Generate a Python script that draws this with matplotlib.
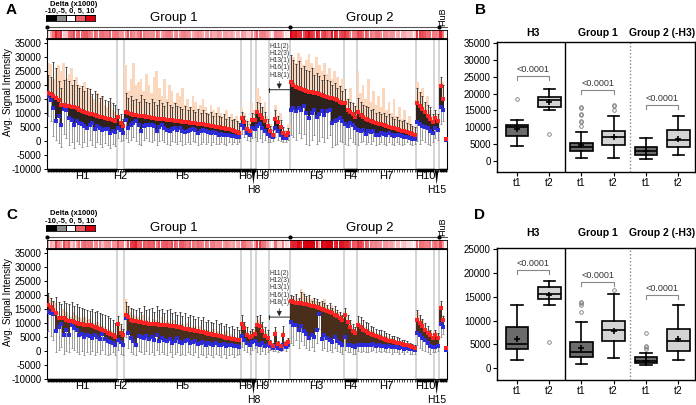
import numpy as np
import matplotlib.pyplot as plt
import matplotlib.transforms as mtransforms
from matplotlib.colors import LinearSegmentedColormap, Normalize

plt.rcParams['font.family'] = ['Liberation Sans', 'DejaVu Sans']
plt.rcParams['axes.unicode_minus'] = False

W, H = 696, 405

# probe blocks along the x axis of A and C
segments = ['H1', 'H2', 'H5', 'H6', 'H8', 'H9', 'other', 'H3', 'H4', 'H7', 'H10', 'H15', 'FluB']
seg_sizes = [27, 3, 45, 4, 2, 5, 8, 21, 5, 23, 7, 2, 3]
low_labels = ['H8', 'H15']
bold_segments = ['H1', 'H5', 'H6', 'H8', 'H4', 'H10', 'FluB']
other_note = 'H11(2)\nH12(3)\nH13(1)\nH16(1)\nH18(1)'
groups = ['Group 1', 'Group 2']
group_sizes = [94, 58]
delta_keys = [-10, -5, 0, 5, 10]

# ---- panel A, values x1000 ----
a_t2 = [17.0, 16.6, 16.0, 15.2, 14.6, 13.0, 12.8, 12.6, 12.4, 12.2, 12.0, 11.6, 11.2, 10.8,
        10.4, 10.1, 9.8, 9.5, 9.2, 8.9, 8.7, 8.4, 8.2, 8.0, 7.8, 7.5, 7.3,
        8.6, 6.3, 5.5,
        10.3, 9.9, 9.6, 9.4, 9.2, 9.0, 8.9, 8.8, 8.6, 8.5, 8.3, 8.2, 8.0, 7.9, 7.8, 7.7, 7.6,
        7.5, 7.4, 7.3, 7.2, 7.0, 6.9, 6.8, 6.7, 6.5, 6.4, 6.3, 6.1, 6.0, 5.9, 5.7, 5.6, 5.4,
        5.2, 5.0, 4.9, 4.7, 4.5, 4.3, 4.1, 3.9, 3.6, 3.3, 3.0,
        8.3, 6.8, 4.2, 3.5,
        7.6, 7.4,
        10.2, 9.4, 8.2, 7.0, 5.2,
        3.5, 2.2, 8.0, 6.6, 5.0, 3.0, 2.0, 2.8,
        21.0, 20.0, 19.4, 19.0, 18.6, 18.3, 17.9, 17.6, 17.4, 17.2, 17.0, 16.7, 16.4, 16.1,
        15.8, 15.5, 15.2, 14.9, 14.5, 14.0, 13.6,
        13.6, 11.2, 10.4, 9.6, 8.7,
        10.4, 9.4, 8.6, 8.0, 7.6, 7.2, 6.8, 6.5, 6.2, 5.9, 5.6, 5.3, 5.0, 4.8, 4.5, 4.2, 4.0,
        3.7, 3.4, 3.1, 2.8, 2.4, 2.0,
        13.6, 12.6, 11.4, 10.4, 9.0, 8.0, 6.8,
        8.2, 7.0,
        19.8, 15.0, 0.8]
a_t1 = [15.9, 14.7, 11.8, 7.3, 8.8, 5.6, 11.5, 11.2, 8.2, 7.6, 5.8, 7.0, 6.4, 6.0, 5.2, 4.6,
        5.8, 6.4, 4.4, 5.2, 4.6, 4.0, 4.4, 4.4, 2.9, 3.7, 3.2,
        4.6, 3.8, 3.0,
        7.6, 4.6, 5.6, 6.4, 7.0, 5.6, 3.5, 5.2, 5.6, 5.6, 5.6, 5.2, 3.5, 4.9, 5.6, 4.6, 4.0,
        3.7, 4.4, 4.6, 4.0, 4.6, 3.5, 3.2, 3.7, 4.0, 4.4, 3.9, 2.9, 3.5, 3.9, 3.5, 3.2, 2.7,
        3.2, 2.9, 2.3, 2.5, 2.3, 2.0, 2.3, 1.7, 1.9, 1.5, 1.3,
        5.8, 4.6, 2.8, 2.2,
        4.8, 4.4,
        5.2, 6.0, 4.6, 3.4, 2.6,
        1.9, 1.6, 4.5, 3.5, 2.0, 1.0, 1.2, 2.2,
        11.2, 11.6, 10.6, 11.6, 11.2, 12.4, 10.0, 8.2, 10.0, 11.2, 8.5, 9.6, 10.8, 9.4, 10.6,
        11.2, 6.4, 7.0, 7.6, 8.2, 7.0,
        6.0, 5.2, 6.5, 5.8, 4.6,
        4.0, 3.7, 4.0, 2.5, 3.5, 3.2, 3.7, 2.3, 2.0, 2.9, 2.5, 2.3, 2.7, 2.0, 1.7, 2.3, 2.0,
        1.7, 1.3, 1.5, 1.1, 0.8, 0.6,
        6.6, 6.0, 5.4, 5.0, 4.6, 3.4, 3.0,
        4.6, 4.0,
        12.0, 11.0, 0.3]
a_peach = [28.0, 27.5, 22.0, 26.0, 27.0, 25.0, 28.0, 22.0, 24.0, 26.0, 20.0, 23.0, 20.0, 19.0,
           21.0, 18.0, 19.0, 16.0, 15.0, 17.0, 14.0, 16.0, 13.0, 12.0, 14.0, 11.0, 10.5,
           10.0, 9.0, 8.0,
           27.0, 18.0, 22.0, 28.0, 20.0, 21.0, 22.0, 18.0, 24.0, 20.0, 17.0, 23.0, 25.0, 19.0,
           16.0, 22.0, 15.0, 20.0, 18.0, 14.0, 17.0, 16.0, 19.0, 13.0, 15.0, 12.0, 16.0, 14.0,
           11.0, 13.0, 15.0, 12.0, 10.0, 13.0, 11.0, 9.5, 12.0, 10.0, 9.0, 11.0, 8.5, 9.5,
           8.0, 9.0, 7.0,
           12.0, 10.0, 8.0, 7.0,
           14.0, 11.0,
           19.0, 16.0, 12.0, 14.0, 9.0,
           6.0, 5.0, 13.0, 9.0, 10.0, 5.0, 4.0, 6.0,
           29.0, 30.0, 28.0, 31.5, 30.0, 27.0, 29.0, 31.0, 28.0, 26.0, 30.0, 27.0, 25.0, 28.0,
           24.0, 26.0, 22.0, 25.0, 23.0, 20.0, 22.0,
           18.0, 15.0, 19.0, 14.0, 12.0,
           25.0, 17.0, 20.0, 15.0, 22.0, 14.0, 18.0, 13.0, 16.0, 12.0, 19.0, 11.0, 14.0, 10.0,
           15.0, 9.0, 12.0, 8.0, 11.0, 7.0, 9.0, 6.0, 5.0,
           21.0, 17.0, 19.0, 14.0, 16.0, 11.0, 9.0,
           10.0, 9.0,
           22.0, 21.0, 0.8]
a_hi = [23.7, 22.8, 28.1, 26.1, 21.3, 19.0, 21.9, 26.3, 21.3, 20.1, 21.9, 20.1, 19.0, 19.6,
        17.8, 19.0, 18.4, 16.6, 17.8, 16.6, 15.4, 16.0, 14.8, 14.2, 15.4, 13.6, 13.0,
        11.5, 9.5, 8.0,
        17.0, 15.5, 16.0, 14.5, 15.0, 14.0, 16.5, 15.0, 14.0, 13.5, 15.0, 14.0, 13.0, 14.5,
        13.5, 12.5, 14.0, 13.0, 12.0, 13.5, 12.5, 12.0, 11.5, 12.5, 11.0, 12.0, 11.0, 10.5,
        11.5, 10.0, 11.0, 10.0, 9.5, 10.5, 9.0, 10.0, 9.0, 8.5, 9.5, 8.0, 8.5, 7.5, 8.0, 7.0, 6.5,
        10.5, 9.0, 7.0, 6.0,
        10.0, 9.5,
        14.0, 13.5, 12.0, 10.5, 8.0,
        5.5, 4.0, 11.0, 9.0, 7.5, 5.0, 3.5, 4.5,
        30.8, 29.0, 27.3, 28.5, 26.1, 26.7, 25.5, 24.9, 26.1, 23.7, 24.3, 23.1, 21.9, 23.7,
        21.9, 21.3, 20.1, 20.7, 18.9, 19.5, 17.8,
        18.5, 15.0, 14.0, 13.5, 12.5,
        15.5, 14.0, 13.0, 12.5, 12.0, 11.0, 11.5, 10.0, 10.5, 9.5, 10.0, 9.0, 9.5, 8.5, 8.0,
        8.5, 7.5, 7.0, 7.5, 6.5, 6.0, 5.5, 5.0,
        19.0, 17.5, 16.0, 14.0, 13.0, 12.0, 9.5,
        11.0, 9.5,
        23.0, 20.0, 0.8]
a_lo = [8.8, 7.0, 1.7, 0.5, -0.7, -2.0, 2.5, 1.0, -1.5, -0.5, -2.5, 0.0, -1.0, -2.0, -0.5,
        -1.8, 0.2, -1.5, -2.0, -0.5, -1.0, -2.2, -0.8, -1.5, -2.5, -1.0, -1.8,
        1.0, 0.0, 0.5,
        1.0, -0.5, 0.5, 1.5, 0.0, -1.0, -1.5, 0.5, 1.0, 0.0, -0.5, 0.5, -1.5, 0.0, 0.5, -0.5,
        -1.0, -1.5, 0.0, -0.5, -1.0, 0.0, -1.5, -1.0, -0.5, -1.0, 0.0, -0.5, -1.5, -1.0, -0.5,
        -1.0, -0.5, -1.5, -0.5, -1.0, -1.0, -0.5, -1.0, -1.5, -0.5, -1.0, -0.5, -1.0, -0.5,
        2.5, 1.5, 0.5, 0.0,
        1.0, 1.5,
        0.0, 1.0, -0.5, 0.5, -0.5,
        -0.5, 0.0, 1.5, 0.5, 0.0, -0.5, -0.5, 0.5,
        2.0, 1.5, 0.5, 3.0, 1.0, 2.5, -1.0, -1.5, 0.5, 2.0, -1.0, 0.0, 1.5, -0.5, 1.0, 2.0,
        -2.0, -1.5, -1.0, 0.0, -0.5,
        -1.0, -1.5, 1.0, -0.5, -1.0,
        -1.5, -0.5, 0.0, -1.0, -0.5, -1.0, 0.0, -1.5, -1.0, -0.5, -1.0, -1.5, -0.5, -1.0, -1.5,
        -0.5, -1.0, -1.5, -1.0, -0.5, -1.0, -1.5, -1.0,
        0.0, -1.0, 0.5, -0.5, -1.0, -1.5, -0.5,
        1.0, 0.5,
        6.0, 7.0, 0.3]

# ---- panel C, values x1000 ----
c_t2 = [16.3, 15.6, 14.7, 13.6, 11.8, 11.6, 11.6, 11.2, 10.8, 10.6, 10.4, 10.0, 9.8, 9.6,
        9.4, 9.4, 9.2, 8.8, 8.5, 8.2, 8.0, 7.6, 7.0, 6.4, 6.0, 5.6, 5.0,
        9.8, 6.4, 5.6,
        13.0, 12.0, 11.2, 10.8, 10.6, 10.4, 10.2, 10.0, 9.9, 9.8, 9.7, 9.6, 9.5, 9.4, 9.3, 9.2,
        9.1, 9.0, 8.9, 8.8, 8.6, 8.4, 8.2, 8.0, 7.8, 7.6, 7.4, 7.2, 7.0, 6.8, 6.6, 6.4, 6.2,
        6.0, 5.8, 5.6, 5.4, 5.2, 5.0, 4.8, 4.6, 4.4, 4.2, 4.0, 3.8,
        9.7, 8.2, 5.8, 5.0,
        5.4, 6.2,
        9.2, 8.8, 7.0, 5.5, 4.5,
        2.9, 1.8, 6.0, 2.5, 1.9, 5.6, 2.5, 3.2,
        18.0, 17.6, 17.3, 17.1, 17.0, 16.8, 16.6, 16.4, 16.2, 16.0, 15.8, 15.5, 15.1, 14.8,
        14.4, 13.9, 13.4, 13.0, 12.4, 11.8, 11.2,
        13.0, 10.4, 8.6, 7.2, 6.4,
        9.2, 8.5, 7.6, 7.0, 6.4, 6.0, 5.6, 5.2, 4.9, 4.6, 4.4, 4.0, 3.7, 3.5, 3.2, 3.0, 2.7,
        2.5, 2.3, 2.0, 1.7, 1.3, 1.1,
        11.0, 10.0, 8.8, 7.6, 6.4, 5.6, 4.6,
        5.6, 4.6,
        15.5, 11.0, 1.1]
c_t1 = [14.0, 13.6, 13.2, 7.0, 8.5, 9.6, 5.6, 7.6, 5.6, 9.4, 8.2, 7.6, 5.6, 6.0, 4.9, 5.6,
        5.2, 4.6, 5.6, 4.9, 4.4, 6.0, 4.4, 3.5, 3.2, 2.9, 2.3,
        4.0, 3.2, 2.3,
        11.8, 6.4, 4.6, 3.5, 2.3, 5.2, 4.9, 4.6, 5.2, 4.4, 4.9, 4.0, 5.6, 3.7, 4.6, 4.0, 3.5,
        4.4, 2.9, 3.7, 4.6, 3.2, 2.9, 3.5, 4.0, 2.9, 3.2, 3.7, 2.5, 2.9, 3.2, 2.3, 2.9, 2.5,
        2.0, 2.7, 2.3, 2.0, 2.5, 1.7, 2.0, 2.3, 1.7, 1.9, 1.5,
        5.4, 4.0, 2.8, 2.2,
        3.2, 3.6,
        2.6, 2.0, 2.9, 1.8, 2.3,
        1.7, 1.1, 1.7, 1.1, 0.8, 2.0, 1.3, 2.3,
        10.4, 9.4, 9.2, 7.6, 8.8, 7.0, 6.0, 4.6, 5.6, 4.9, 7.6, 13.2, 4.4, 5.6, 4.6, 4.0, 3.2,
        4.9, 3.7, 2.9, 2.3,
        4.9, 2.3, 2.0, 1.7, 1.3,
        2.0, 2.0, 2.3, 2.0, 2.0, 2.3, 2.5, 1.7, 2.0, 1.7, 1.9, 1.5, 1.7, 1.3, 1.5, 1.3, 1.1,
        1.3, 0.8, 1.1, 0.8, 0.6, 0.5,
        6.4, 5.6, 4.6, 4.0, 2.9, 1.7, 1.3,
        1.3, 1.7,
        9.6, 8.5, 0.5]
c_peach = [20.0, 19.0, 18.0, 17.0, 14.0, 13.0, 15.0, 14.0, 13.0, 12.0, 14.0, 13.0, 12.0, 11.5,
           12.0, 11.0, 11.5, 10.5, 10.0, 10.5, 9.5, 9.0, 8.5, 8.0, 7.5, 7.0, 6.5,
           11.0, 9.0, 7.0,
           18.5, 16.0, 14.0, 13.0, 12.5, 12.0, 11.5, 13.0, 11.0, 12.0, 10.5, 11.5, 11.0, 10.5,
           12.0, 10.0, 11.0, 10.5, 10.0, 11.0, 9.5, 10.0, 9.5, 9.0, 10.0, 8.5, 9.0, 8.5, 8.0,
           9.0, 7.5, 8.0, 7.5, 7.0, 8.0, 6.5, 7.0, 6.5, 6.0, 7.0, 5.5, 6.0, 5.5, 5.0, 5.0,
           11.0, 9.5, 7.0, 6.0,
           7.0, 8.0,
           11.0, 12.0, 9.0, 7.0, 6.5,
           4.0, 3.0, 7.5, 3.5, 3.0, 7.0, 3.5, 4.5,
           19.5, 19.0, 20.5, 18.5, 22.0, 21.0, 19.0, 20.0, 18.5, 19.0, 18.0, 17.5, 17.0, 18.5,
           16.0, 15.5, 16.5, 15.0, 14.0, 13.5, 12.5,
           15.0, 12.0, 10.0, 8.5, 7.5,
           11.0, 10.0, 9.0, 8.5, 8.0, 7.5, 7.0, 6.5, 6.5, 6.0, 5.5, 5.5, 5.0, 4.5, 4.5, 4.0,
           3.5, 3.5, 3.0, 3.0, 2.5, 2.0, 2.0,
           14.0, 12.5, 11.0, 9.5, 8.0, 7.0, 5.5,
           7.0, 6.0,
           17.0, 13.0, 1.1]
c_hi = [20.7, 18.9, 17.8, 19.2, 17.5, 16.6, 17.8, 17.1, 16.8, 17.5, 15.9, 16.6, 15.6, 15.4,
        15.1, 14.7, 14.4, 15.1, 13.9, 14.2, 13.6, 13.2, 13.0, 12.4, 11.8, 11.2, 10.0,
        12.5, 9.5, 8.0,
        17.5, 16.0, 15.5, 15.0, 14.5, 15.5, 14.0, 16.0, 14.5, 15.0, 15.5, 14.0, 16.0, 14.5,
        15.0, 13.5, 14.5, 15.0, 13.5, 14.0, 13.0, 14.0, 12.5, 13.5, 12.0, 13.0, 12.5, 11.5,
        12.0, 11.0, 12.0, 10.5, 11.0, 10.5, 10.0, 11.0, 9.5, 10.0, 9.0, 9.5, 8.5, 9.0, 8.0,
        8.5, 7.5,
        13.0, 10.5, 8.5, 7.0,
        8.0, 8.5,
        12.5, 13.0, 10.5, 8.5, 7.5,
        4.0, 3.0, 8.5, 3.5, 2.5, 9.0, 3.5, 4.5,
        20.0, 19.5, 20.5, 19.0, 21.0, 20.5, 19.5, 20.0, 18.0, 19.0, 18.5, 17.5, 18.0, 17.0,
        16.5, 17.0, 15.5, 16.0, 14.5, 14.0, 13.0,
        15.5, 13.0, 11.0, 9.5, 8.5,
        12.5, 12.0, 11.0, 10.5, 10.0, 9.0, 8.5, 8.0, 7.5, 7.5, 7.0, 6.5, 6.0, 5.5, 5.5, 5.0,
        4.5, 4.0, 4.0, 3.5, 3.0, 2.5, 2.0,
        14.5, 13.0, 11.5, 10.0, 9.0, 7.5, 6.0,
        7.5, 6.5,
        18.0, 12.5, 1.1]
c_lo = [7.0, 5.5, 4.0, -0.5, 0.5, 1.5, -1.0, 0.0, -0.5, 1.0, 0.5, -0.5, -1.0, 0.0, -1.5,
        -0.5, -1.0, 0.0, -1.5, -0.5, -1.0, 0.5, -1.0, -1.5, -1.0, -0.5, -1.5,
        0.5, -1.0, -1.5,
        5.0, 1.0, -0.5, -1.0, -1.5, 0.0, -0.5, -1.0, 0.0, -1.0, -0.5, -1.5, 0.5, -1.0, -0.5,
        -1.0, -1.5, -0.5, -2.0, -1.0, -0.5, -1.5, -1.0, -1.5, -0.5, -1.0, -1.5, -0.5, -2.0,
        -1.0, -1.5, -2.0, -1.0, -1.5, -2.0, -1.0, -1.5, -2.0, -1.0, -2.5, -1.5, -1.0, -2.0,
        -1.5, -1.0,
        1.5, 0.5, -0.5, -1.0,
        0.5, 1.0,
        -0.5, -1.0, 0.0, -1.0, -0.5,
        0.5, 0.0, 0.0, -0.5, 0.0, 0.5, 0.0, 1.0,
        3.0, 2.0, 4.0, 1.0, 3.5, 2.0, 1.0, 0.5, 1.5, 0.0, 3.0, 8.0, 0.5, 1.0, 0.0, 0.5, -0.5,
        1.0, 0.0, -0.5, -1.0,
        0.5, -0.5, -0.5, -1.0, -1.0,
        0.0, -0.5, 0.0, -0.5, -0.5, 0.0, 0.5, -0.5, 0.0, -0.5, 0.0, -0.5, -0.5, -1.0, -0.5,
        -0.5, -1.0, -0.5, -1.0, -0.5, -1.0, -1.0, -1.0,
        2.0, 1.0, 0.5, 0.0, -0.5, -1.0, -0.5,
        -0.5, 0.0,
        5.0, 6.0, 0.5]

# ---- panels B and D (box summaries) ----
box_labels = ['t1', 't2', 't1', 't2', 't1', 't2']
box_titles = ['H3', 'Group 1', 'Group 2 (-H3)']
b_q1 = [7500, 16000, 3000, 4800, 1800, 4000]
b_med = [10000, 18200, 4000, 7000, 2800, 6200]
b_q3 = [10800, 19000, 5300, 9000, 4000, 9200]
b_lo = [4500, 15000, 800, 800, 500, 1800]
b_hi = [12000, 21300, 8700, 13200, 6700, 13200]
b_mean = [9600, 17500, 4600, 7000, 3000, 6500]
b_fliers = [[18500], [8000], [10400, 11500, 11900, 13500, 14000, 15800, 16000],
            [15000, 16200, 16500], [], []]
b_brackets = [25200, 21000, 16500]

d_q1 = [3940, 14600, 2300, 5700, 1050, 3700]
d_med = [5070, 15700, 3500, 8100, 1500, 5800]
d_q3 = [8600, 17000, 5400, 10000, 2250, 8200]
d_lo = [1760, 13200, 770, 2200, 560, 1700]
d_hi = [13300, 18400, 9700, 15600, 3200, 13200]
d_mean = [6100, 15300, 4200, 7900, 1600, 6100]
d_fliers = [[], [5500], [11900, 13400, 13700, 14000], [16500], [4000, 4400, 4700, 7400], []]
d_brackets = [20600, 18100, 15300]

delta_cmap = LinearSegmentedColormap.from_list(
    'delta', [(0.0, 'black'), (0.25, '#8c8c8c'), (0.5, 'white'), (0.62, '#f59aa0'),
              (0.75, '#ef5f68'), (1.0, '#d8000e')])
delta_norm = Normalize(-10, 10)

fig = plt.figure(figsize=(W / 100, H / 100), dpi=100)


def px_box(x0, y0, x1, y1):
    return [x0 / W, 1 - y1 / H, (x1 - x0) / W, (y1 - y0) / H]


def fig_text(x, y, s, **kw):
    fig.text(x / W, 1 - y / H, s, **kw)


def bar_panel(dy, t2, t1, peach, hi, lo, dark, peach_col, note_y):
    t2 = np.array(t2) * 1000
    t1 = np.array(t1) * 1000
    peach = np.array(peach) * 1000
    hi = np.array(hi) * 1000
    lo = np.array(lo) * 1000
    n = len(t2)
    x = np.arange(n)
    edges = np.concatenate([[0], np.cumsum(seg_sizes)])
    centers = (edges[:-1] + edges[1:] - 1) / 2

    ax = fig.add_axes(px_box(47, 39 + dy, 447, 169 + dy))
    for b in edges[1:-1]:
        ax.axvline(b - 0.5, color='#d2d2d2', lw=1.3, zorder=0)
    ax.bar(x, np.clip(peach - t1, 0, None), bottom=t1, width=1.0, color=peach_col, lw=0, zorder=1)
    ax.bar(x, t2 - t1, bottom=t1, width=1.0, color=dark, lw=0, zorder=2)
    zeros = np.zeros(n)
    ax.errorbar(x, t2, yerr=[zeros, hi - t2], fmt='none', ecolor='#2a2a2a',
                elinewidth=0.6, capsize=1.0, capthick=0.6, zorder=3)
    ax.errorbar(x, t1, yerr=[t1 - lo, zeros], fmt='none', ecolor='#8a8a8a',
                elinewidth=0.6, capsize=1.0, capthick=0.6, zorder=3)
    ax.plot(x, t1, 's', color='#2b2bd9', ms=2.4, mew=0, zorder=4)
    ax.plot(x, t2, 's', color='#ff2222', ms=2.4, mew=0, zorder=5)

    ax.set_xlim(-0.5, n - 0.5)
    ax.set_ylim(-10000, 36400)
    ax.set_yticks(range(-10000, 35001, 5000))
    ax.set_xticks(x)
    ax.set_xticklabels([])
    ax.tick_params(axis='y', labelsize=7, length=2.5, width=0.7, pad=1.5)
    ax.tick_params(axis='x', length=2, width=0.5)
    for s in ax.spines.values():
        s.set_linewidth(0.8)
    ax.set_ylabel('Avg. Signal Intensity', fontsize=7)
    ax.yaxis.set_label_coords(-0.086, 0.59)

    trans = mtransforms.blended_transform_factory(ax.transData, ax.transAxes)
    for name in bold_segments:
        i = segments.index(name)
        ax.plot([edges[i] - 0.5, edges[i + 1] - 0.5], [-0.008, -0.008], transform=trans,
                color='black', lw=2.5, clip_on=False, solid_capstyle='butt', zorder=6)
    for name, c in zip(segments, centers):
        if name in ('other', 'FluB'):
            continue
        if name in low_labels:
            ax.text(c, -0.165, name, ha='center', va='center', fontsize=7.5, transform=trans)
            ax.fill([c - 0.7, c + 0.7, c], [-0.01, -0.01, -0.12], transform=trans,
                    color='black', clip_on=False, lw=0)
        else:
            ax.text(c, -0.055, name, ha='center', va='center', fontsize=8, transform=trans)

    i = segments.index('other')
    c = centers[i]
    ax.text(c, note_y + 4000, other_note, ha='center', va='bottom', fontsize=4.8,
            linespacing=1.05, color='#333333')
    ax.annotate('', xy=(edges[i] - 0.5, note_y), xytext=(edges[i + 1] - 0.5, note_y),
                arrowprops=dict(arrowstyle='|-|,widthA=0.15,widthB=0.15', color='#222222',
                                lw=0.7, shrinkA=0, shrinkB=0))
    ax.annotate('', xy=(c, note_y + 300), xytext=(c, note_y + 3000),
                arrowprops=dict(arrowstyle='-|>,head_length=0.3,head_width=0.15',
                                color='#222222', lw=0.5, shrinkA=0, shrinkB=0))

    # delta strip on top
    axh = fig.add_axes(px_box(47, 30 + dy, 447, 39 + dy))
    delta = (t2 - t1) / 1000
    axh.bar(x, 1, width=0.9, bottom=0, color=delta_cmap(delta_norm(delta)), lw=0)
    axh.set_xlim(-0.5, n - 0.5)
    axh.set_ylim(0, 1)
    axh.set_xticks([])
    axh.set_yticks([])
    for s in axh.spines.values():
        s.set_linewidth(0.6)
    axh.spines['bottom'].set_linewidth(1.3)

    ht = mtransforms.blended_transform_factory(axh.transData, axh.transAxes)
    gedges = np.concatenate([[0], np.cumsum(group_sizes)]) - 0.5
    axh.plot([-0.5, n - 0.5], [1.33, 1.33], transform=ht, color='#555555', lw=0.8, clip_on=False)
    axh.plot(gedges, [1.33] * len(gedges), 'o', ms=2, color='black', transform=ht, clip_on=False)
    for g, a, b in zip(groups, gedges[:-1], gedges[1:]):
        axh.text((a + b) / 2 + 2, 2.35, g, ha='center', va='center', fontsize=9.5, transform=ht)
    j = segments.index('FluB')
    axh.text(centers[j], 2.5, 'FluB', rotation=90, ha='center', va='center', fontsize=6.5,
             transform=ht)

    # delta legend
    axl = fig.add_axes(px_box(46, 15 + dy, 95, 21 + dy))
    axl.pcolormesh(np.arange(len(delta_keys) + 1), [0, 1], np.array(delta_keys)[None, :],
                   cmap=delta_cmap, norm=delta_norm, edgecolors='black', linewidth=0.6)
    axl.set_xticks([])
    axl.set_yticks([])
    for s in axl.spines.values():
        s.set_linewidth(0.6)
    fig_text(74, 4 + dy, 'Delta (x1000)', ha='center', va='center', fontsize=5.5, weight='bold')
    fig_text(70, 11 + dy, '-10,-5, 0, 5, 10', ha='center', va='center', fontsize=5.5,
             weight='bold')


def box_panel(rect, title_y, ylim, yticks, q1, med, q3, lo, hi, mean, fliers, brackets, gap):
    ax = fig.add_axes(px_box(*rect))
    pos = np.arange(1, 7)
    stats = [dict(q1=a, med=b, q3=c, whislo=d, whishi=e, mean=f, fliers=g)
             for a, b, c, d, e, f, g in zip(q1, med, q3, lo, hi, mean, fliers)]
    bp = ax.bxp(stats, positions=pos, widths=0.7, patch_artist=True, showmeans=True,
                capwidths=0.35,
                boxprops=dict(lw=1.2, edgecolor='black'),
                medianprops=dict(color='black', lw=1.2),
                whiskerprops=dict(lw=1.2),
                capprops=dict(lw=1.2),
                meanprops=dict(marker='+', markeredgecolor='black', markersize=4.5,
                               markeredgewidth=1.2),
                flierprops=dict(marker='o', markerfacecolor='none', markeredgecolor='#7a7a7a',
                                markersize=2.6, markeredgewidth=0.6))
    for k, patch in enumerate(bp['boxes']):
        patch.set_facecolor('#6b6b6b' if k % 2 == 0 else '#d4d4d4')
    ax.axvline(2.5, color='black', lw=1.0)
    ax.axvline(4.5, color='#888888', lw=1.0, ls=(0, (1, 1.5)))
    for k, lvl in enumerate(brackets):
        x0, x1 = pos[2 * k], pos[2 * k + 1]
        drop = (ylim[1] - ylim[0]) * 0.03
        ax.plot([x0, x0, x1, x1], [lvl - drop, lvl, lvl, lvl - drop], color='#888888', lw=0.8)
        ax.text((x0 + x1) / 2, lvl + gap, '<0.0001', ha='center', va='bottom', fontsize=6.5,
                color='#333333')
    tt = mtransforms.blended_transform_factory(ax.transData, ax.transAxes)
    for k, t in enumerate(box_titles):
        ax.text(pos[2 * k] + 0.5, title_y, t, ha='center', va='center', fontsize=7.5,
                weight='bold', transform=tt)
    ax.set_xlim(0.38, 6.52)
    ax.set_ylim(*ylim)
    ax.set_yticks(yticks)
    ax.set_xticks(pos)
    ax.set_xticklabels(box_labels)
    ax.tick_params(axis='y', labelsize=7, length=3, width=0.8, pad=1.5)
    ax.tick_params(axis='x', labelsize=7.5, length=3, width=0.8, pad=1.5)
    for s in ax.spines.values():
        s.set_linewidth(1.0)


bar_panel(0, a_t2, a_t1, a_peach, a_hi, a_lo, '#2d231c', '#fbd8bd', 18300)
bar_panel(210, c_t2, c_t1, c_peach, c_hi, c_lo, '#4a2e1c', '#f4cfb0', 12100)

box_panel((497, 42, 695, 172), 1.07, (-3300, 35300), range(0, 35001, 5000),
          b_q1, b_med, b_q3, b_lo, b_hi, b_mean, b_fliers, b_brackets, 600)
box_panel((497, 248, 695, 380), 1.11, (-2500, 25300), range(0, 25001, 5000),
          d_q1, d_med, d_q3, d_lo, d_hi, d_mean, d_fliers, d_brackets, 450)

for letter, (lx, ly) in zip('ABCD', [(6, 10), (475, 10), (6, 215), (474, 215)]):
    fig_text(lx, ly, letter, ha='left', va='center', fontsize=11, weight='bold')

fig.savefig('out.png', dpi=100)
